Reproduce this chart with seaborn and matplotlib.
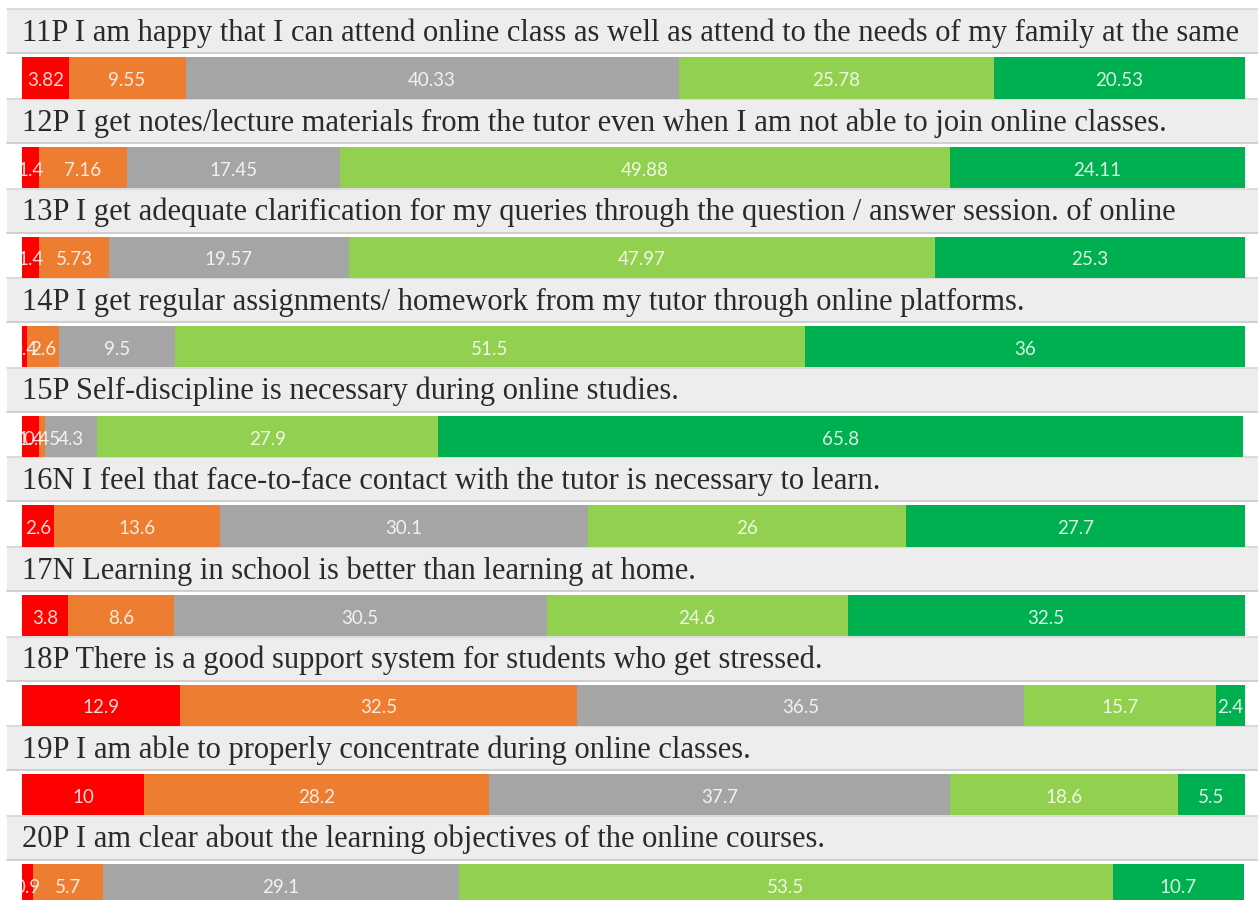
import numpy as np
import pandas as pd
import seaborn as sns
import matplotlib.pyplot as plt
from matplotlib.patches import Rectangle
from matplotlib.transforms import Bbox, TransformedBbox, blended_transform_factory

sns.set_theme(style="white")

statements = [
    "11P I am happy that I can attend online class as well as attend to the needs of my family at the same",
    "12P I get notes/lecture materials from the tutor even when I am not able to join online classes.",
    "13P I get adequate clarification for my queries through the question / answer session. of online",
    "14P I get regular assignments/ homework from my tutor through online platforms.",
    "15P Self-discipline is necessary during online studies.",
    "16N I feel that face-to-face contact with the tutor is necessary to learn.",
    "17N Learning in school is better than learning at home.",
    "18P There is a good support system for students who get stressed.",
    "19P I am able to properly concentrate during online classes.",
    "20P I am clear about the learning objectives of the online courses.",
]
strongly_disagree = [3.82, 1.4, 1.4, 0.4, 1.4, 2.6, 3.8, 12.9, 10, 0.9]
disagree = [9.55, 7.16, 5.73, 2.6, 0.45, 13.6, 8.6, 32.5, 28.2, 5.7]
neutral = [40.33, 17.45, 19.57, 9.5, 4.3, 30.1, 30.5, 36.5, 37.7, 29.1]
agree = [25.78, 49.88, 47.97, 51.5, 27.9, 26, 24.6, 15.7, 18.6, 53.5]
strongly_agree = [20.53, 24.11, 25.3, 36, 65.8, 27.7, 32.5, 2.4, 5.5, 10.7]

levels = ["Strongly disagree", "Disagree", "Neutral", "Agree", "Strongly agree"]
colors = ["#FF0000", "#ED7D31", "#A5A5A5", "#92D050", "#00B050"]

df = pd.DataFrame({
    "statement": statements,
    "Strongly disagree": strongly_disagree,
    "Disagree": disagree,
    "Neutral": neutral,
    "Agree": agree,
    "Strongly agree": strongly_agree,
})
cum = df[levels].cumsum(axis=1)
starts = cum - df[levels]

W, H = 1258, 900
fig = plt.figure(figsize=(W / 100, H / 100), dpi=100)
fig.patch.set_facecolor("white")
ax = fig.add_axes([0, 0, 1, 1])

# stacked bars: draw cumulative totals from the right-most segment back to the first
for lvl, col in reversed(list(zip(levels, colors))):
    plot_df = pd.DataFrame({"statement": df["statement"], "value": cum[lvl]})
    sns.barplot(data=plot_df, x="value", y="statement", orient="h", color=col,
                saturation=1, width=0.46, edgecolor="none", linewidth=0, ax=ax,
                errorbar=None, zorder=3)

# x range: bars run from 22 px to 1245 px across the figure
bar_left_px, bar_right_px = 22, 1245
span = (bar_right_px - bar_left_px) / 100.0
ax.set_xlim(-bar_left_px / span, (W - bar_left_px) / span)
pitch = 89.6
first_center = 78
ax.set_ylim((H - first_center) / pitch, -first_center / pitch)
ax.axis("off")

# statement header bands above each bar
blend = blended_transform_factory(ax.transAxes, ax.transData)
band_h = 44 / pitch
band_off = 46.5 / pitch
for i, text in enumerate(statements):
    yc = i - band_off
    ax.add_patch(Rectangle((7 / W, yc - band_h / 2), 1, band_h, transform=blend,
                           facecolor="#EDEDED", edgecolor="none", zorder=1))
    ax.plot([7 / W, 1], [yc - band_h / 2] * 2, transform=blend, color="#D6D6D6", lw=1.2, zorder=2)
    ax.plot([7 / W, 1], [yc + band_h / 2] * 2, transform=blend, color="#C8C8C8", lw=1.2, zorder=2)
    ax.text(0, yc + 0.02, text, ha="left", va="center", fontsize=22,
            family=["Liberation Serif", "DejaVu Serif"], color="#2a2a2a", zorder=4)

# segment value labels, clipped to the plotting span
clip = TransformedBbox(Bbox([[0, -2], [100, 12]]), ax.transData)
for i in range(len(df)):
    for lvl in levels:
        v = df.loc[i, lvl]
        xc = starts.loc[i, lvl] + v / 2
        t = ax.text(xc, i + 0.03, f"{v:g}", ha="center", va="center", fontsize=13.5,
                    family=["Lato", "DejaVu Sans"], color="white", alpha=0.85, zorder=5)
        t.set_clip_box(clip)
        t.set_clip_on(True)

fig.savefig("out.png", dpi=100, facecolor="white")
